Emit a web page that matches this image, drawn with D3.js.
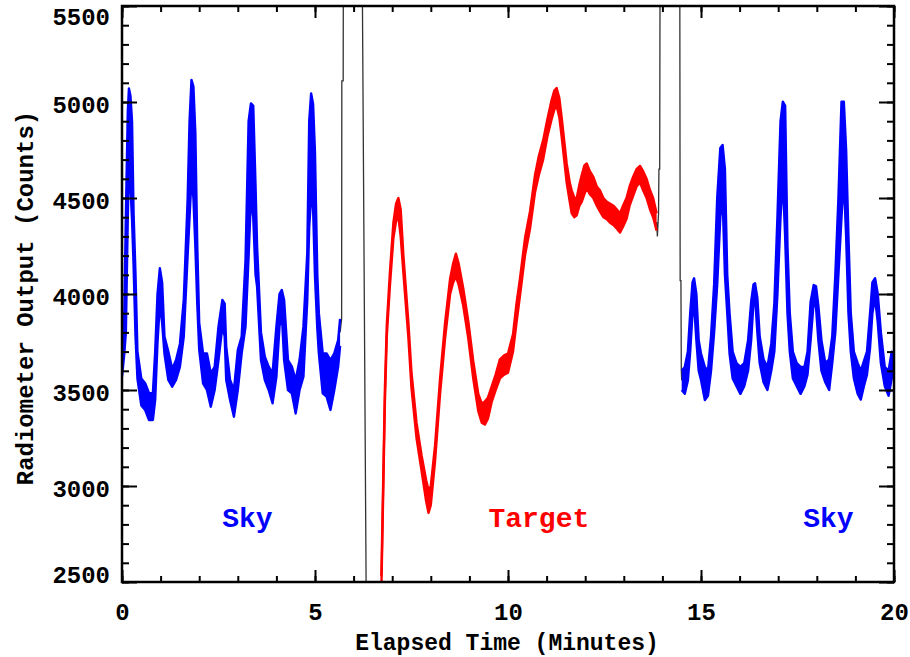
<!DOCTYPE html>
<html>
<head>
<meta charset="utf-8">
<script src="https://cdn.jsdelivr.net/npm/d3@7/dist/d3.min.js"></script>
<style>
  html, body { margin: 0; padding: 0; background: #fff; }
  svg { display: block; }
  text { font-family: "Liberation Mono", "DejaVu Sans Mono", monospace; font-weight: bold; }
</style>
</head>
<body>
<svg id="chart" width="910" height="657"></svg>
<script>
// Radiometer record: [minutes, low counts, high counts] for each sampled interval
const skyLeft = [
  [0.00,3569,3708],[0.06,3690,3900],[0.10,3800,4400],[0.15,4400,4950],[0.18,4700,5071],
  [0.22,4550,5030],[0.26,4390,4900],[0.30,4150,4420],[0.35,3780,4100],[0.40,3560,3700],
  [0.50,3420,3560],[0.60,3396,3535],[0.70,3344,3483],[0.80,3344,3483],[0.86,3450,3700],
  [0.92,3750,4000],[0.98,3950,4134],[1.04,3850,4060],[1.10,3690,3778],[1.20,3552,3700],
  [1.30,3517,3610],[1.40,3552,3656],[1.50,3620,3740],[1.60,3778,3969],[1.70,4200,4490],
  [1.75,4400,4900],[1.80,4600,5115],[1.85,4500,5080],[1.90,4250,4840],[1.95,3950,4250],
  [2.00,3710,3850],[2.10,3535,3691],[2.20,3500,3691],[2.30,3413,3587],[2.40,3500,3620],
  [2.50,3656,3830],[2.60,3830,3969],[2.66,3780,3950],[2.70,3552,3726],[2.80,3448,3552],
  [2.90,3361,3500],[3.00,3500,3708],[3.10,3691,3778],[3.20,3830,4177],[3.28,4200,4900],
  [3.34,4500,4993],[3.40,4400,4980],[3.46,4100,4560],[3.50,4038,4247],[3.60,3656,3800],
  [3.70,3552,3674],[3.80,3500,3622],[3.90,3431,3587],[4.00,3569,3830],[4.08,3830,4000],
  [4.14,3900,4021],[4.20,3656,3969],[4.30,3500,3656],[4.40,3483,3622],[4.50,3378,3552],
  [4.60,3500,3656],[4.70,3569,3830],[4.80,3969,4212],[4.85,4350,4900],[4.90,4500,5045],
  [4.95,4450,4990],[5.00,4090,4733],[5.06,3820,4100],[5.10,3691,3899],[5.20,3483,3691],
  [5.30,3465,3691],[5.40,3396,3656],[5.50,3500,3691],[5.60,3622,3760],[5.65,3730,3870]
];

const target = [
  [6.72,2470,2530],[6.77,3000,3060],[6.81,3430,3500],[6.86,3780,3840],[6.94,4040,4110],
  [7.03,4290,4370],[7.10,4380,4470],[7.16,4400,4500],[7.22,4300,4440],[7.29,4110,4200],
  [7.42,3770,3850],[7.50,3510,3590],[7.63,3250,3330],[7.76,3080,3160],[7.88,2920,3030],
  [7.94,2860,2980],[8.00,2900,3000],[8.11,3130,3210],[8.24,3480,3560],[8.37,3770,3850],
  [8.50,4000,4080],[8.58,4060,4160],[8.65,4090,4210],[8.72,4050,4160],[8.84,3940,4030],
  [8.97,3770,3860],[9.10,3560,3650],[9.23,3390,3480],[9.32,3330,3430],[9.40,3320,3440],
  [9.48,3350,3460],[9.58,3440,3520],[9.68,3500,3580],[9.79,3560,3660],[9.90,3580,3680],
  [10.00,3590,3690],[10.13,3700,3790],[10.22,3850,3950],[10.31,3990,4080],[10.44,4200,4290],
  [10.57,4340,4430],[10.70,4530,4620],[10.80,4620,4720],[10.91,4700,4800],[11.02,4820,4910],
  [11.13,4910,5010],[11.20,4960,5060],[11.26,4980,5073],[11.33,4920,5020],[11.39,4820,4920],
  [11.52,4580,4680],[11.60,4480,4580],[11.65,4420,4540],[11.72,4400,4500],[11.78,4410,4500],
  [11.85,4460,4570],[11.91,4480,4620],[11.98,4520,4670],[12.04,4550,4680],[12.12,4520,4640],
  [12.21,4500,4610],[12.30,4460,4560],[12.38,4430,4540],[12.47,4400,4500],[12.56,4390,4480],
  [12.65,4370,4470],[12.73,4360,4460],[12.82,4340,4440],[12.90,4320,4420],[12.98,4350,4460],
  [13.07,4390,4500],[13.15,4460,4560],[13.24,4510,4610],[13.33,4560,4650],[13.42,4580,4667],
  [13.50,4540,4640],[13.59,4500,4600],[13.68,4440,4540],[13.76,4400,4500],[13.85,4330,4420]
];

const skyRight = [
  [14.50,3500,3600],[14.58,3480,3620],[14.66,3550,3700],[14.72,3700,3900],[14.78,3900,4060],
  [14.82,3950,4082],[14.88,3760,4000],[14.94,3600,3760],[15.00,3552,3690],[15.10,3448,3620],
  [15.18,3470,3600],[15.26,3600,3780],[15.34,3800,4050],[15.42,4050,4500],[15.50,4400,4760],
  [15.56,4500,4776],[15.62,4100,4650],[15.68,3900,4100],[15.74,3690,3900],[15.82,3560,3700],
  [15.92,3520,3640],[16.02,3480,3620],[16.12,3520,3640],[16.22,3600,3760],[16.30,3760,3960],
  [16.36,3960,4050],[16.40,3990,4056],[16.46,3800,3980],[16.52,3640,3780],[16.62,3540,3660],
  [16.72,3500,3620],[16.82,3600,3740],[16.90,3700,3950],[16.98,4000,4400],[17.06,4400,4900],
  [17.12,4600,5002],[17.18,4300,4980],[17.24,3900,4250],[17.30,3700,3900],[17.38,3560,3700],
  [17.48,3520,3640],[17.58,3480,3620],[17.68,3520,3620],[17.76,3580,3700],[17.84,3760,3960],
  [17.92,3960,4047],[17.98,3930,4040],[18.04,3760,3940],[18.12,3600,3760],[18.22,3540,3640],
  [18.32,3500,3660],[18.40,3640,3780],[18.48,3800,4100],[18.56,4100,4500],[18.64,4400,5002],
  [18.70,4600,5002],[18.76,4300,4750],[18.82,3900,4300],[18.88,3700,3900],[18.96,3560,3700],
  [19.06,3480,3640],[19.14,3450,3600],[19.22,3520,3650],[19.30,3580,3700],[19.38,3720,3900],
  [19.44,3900,4060],[19.51,3980,4082],[19.58,3850,4000],[19.66,3640,3800],[19.76,3520,3620],
  [19.86,3470,3600],[19.94,3560,3700],[20.00,3600,3690]
];

// Beam switching slews, where the record leaves the plotted range: [minutes, counts]
const slewOut = [[5.65,3800],[5.69,3870],[5.695,5110],[5.73,5110],[5.735,5800],[6.22,5800],[6.33,2300],[6.71,2300],[6.72,2500]];
const slewBack = [[13.85,4375],[13.87,4300],[13.90,4420],[13.91,4650],[13.93,4650],[13.94,5800],[14.45,5800],[14.46,4070],[14.48,4070],[14.49,3600],[14.50,3550]];

const xTicks = [0, 5, 10, 15, 20];
const xMinor = d3.range(0, 21, 1);
const yTicks = [2500, 3000, 3500, 4000, 4500, 5000, 5500];
const yMinor = d3.range(2500, 5501, 100);

const labels = [
  { text: "Sky", t: 3.25, v: 2786, color: "#0000ff" },
  { text: "Target", t: 10.8, v: 2786, color: "#ff0000" },
  { text: "Sky", t: 18.3, v: 2786, color: "#0000ff" }
];

const svg = d3.select("#chart");
const plotLeft = 122, plotRight = 894, plotTop = 6, plotBottom = 582;
const x = d3.scaleLinear().domain([0, 20]).range([plotLeft, plotRight]);
const y = d3.scaleLinear().domain([2500, 5500]).range([plotBottom, plotTop]);

svg.append("defs").append("clipPath").attr("id", "plotClip")
  .append("rect").attr("x", plotLeft).attr("y", plotTop)
  .attr("width", plotRight - plotLeft).attr("height", plotBottom - plotTop);

const plot = svg.append("g").attr("clip-path", "url(#plotClip)");

const slewLine = d3.line().x(d => x(d[0])).y(d => y(d[1]));
[slewOut, slewBack].forEach(s => {
  plot.append("path").attr("d", slewLine(s))
    .attr("fill", "none").attr("stroke", "#333").attr("stroke-width", 1.3);
});

const band = d3.area().x(d => x(d[0])).y0(d => y(d[1])).y1(d => y(d[2]));
const lowLine = d3.line().x(d => x(d[0])).y(d => y(d[1]));
const highLine = d3.line().x(d => x(d[0])).y(d => y(d[2]));

function drawSeries(data, color) {
  plot.append("path").attr("d", band(data)).attr("fill", color).attr("stroke", "none");
  [lowLine, highLine].forEach(l => {
    plot.append("path").attr("d", l(data)).attr("fill", "none")
      .attr("stroke", color).attr("stroke-width", 2.4).attr("stroke-linejoin", "round");
  });
}
drawSeries(skyLeft, "#0000ff");
drawSeries(target, "#ff0000");
drawSeries(skyRight, "#0000ff");

// Frame and ticks on all four sides
const axisStyle = g => {
  g.select(".domain").remove();
  g.selectAll(".tick line").attr("stroke", "#000").attr("stroke-width", 2);
  g.selectAll(".tick text").attr("fill", "#000").style("font-size", "24px").style("font-weight", "bold")
    .style("font-family", '"Liberation Mono", monospace');
};

svg.append("g").attr("transform", `translate(0,${plotBottom})`)
  .call(d3.axisBottom(x).tickValues(xMinor).tickSize(-6).tickFormat("")).call(axisStyle);
svg.append("g").attr("transform", `translate(0,${plotBottom})`)
  .call(d3.axisBottom(x).tickValues(xTicks).tickSize(-12).tickPadding(21).tickFormat(d3.format("d"))).call(axisStyle);
svg.append("g").attr("transform", `translate(0,${plotTop})`)
  .call(d3.axisTop(x).tickValues(xMinor).tickSize(-6).tickFormat("")).call(axisStyle);
svg.append("g").attr("transform", `translate(0,${plotTop})`)
  .call(d3.axisTop(x).tickValues(xTicks).tickSize(-12).tickFormat("")).call(axisStyle);

svg.append("g").attr("transform", `translate(${plotLeft},0)`)
  .call(d3.axisLeft(y).tickValues(yMinor).tickSize(-7).tickFormat("")).call(axisStyle);
const yAxisG = svg.append("g").attr("transform", `translate(${plotLeft},0)`)
  .call(d3.axisLeft(y).tickValues(yTicks).tickSize(-15).tickPadding(12).tickFormat(d3.format("d"))).call(axisStyle);
// keep the end labels inside the window, the others sit just below their ticks
yAxisG.selectAll(".tick text").attr("dy", d => d === 5500 ? "0.77em" : d === 2500 ? "0.0em" : "0.45em");
svg.append("g").attr("transform", `translate(${plotRight},0)`)
  .call(d3.axisRight(y).tickValues(yMinor).tickSize(-7).tickFormat("")).call(axisStyle);
svg.append("g").attr("transform", `translate(${plotRight},0)`)
  .call(d3.axisRight(y).tickValues(yTicks).tickSize(-15).tickFormat("")).call(axisStyle);

svg.append("rect").attr("x", plotLeft).attr("y", plotTop)
  .attr("width", plotRight - plotLeft).attr("height", plotBottom - plotTop)
  .attr("fill", "none").attr("stroke", "#000").attr("stroke-width", 2.5);

// Axis titles
svg.append("text").attr("x", 507).attr("y", 650)
  .attr("text-anchor", "middle").style("font-size", "23px").attr("fill", "#000")
  .text("Elapsed Time (Minutes)");
svg.append("text").attr("transform", "translate(33,298) rotate(-90)")
  .attr("text-anchor", "middle").style("font-size", "24px").attr("fill", "#000")
  .text("Radiometer Output (Counts)");

// Region labels
svg.selectAll(".region").data(labels).enter().append("text")
  .attr("class", "region")
  .attr("x", d => x(d.t)).attr("y", d => y(d.v))
  .attr("text-anchor", "middle").style("font-size", "28px")
  .attr("fill", d => d.color).text(d => d.text);
</script>
</body>
</html>
